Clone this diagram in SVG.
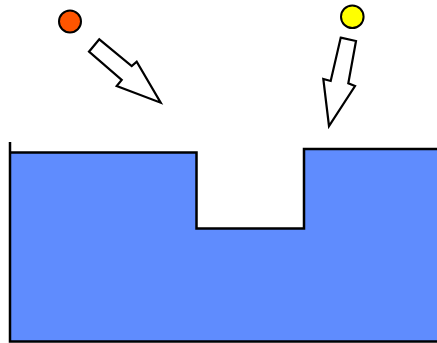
<svg xmlns="http://www.w3.org/2000/svg" width="437" height="343" viewBox="0 0 437 343">
<style>
.ln{fill:none;stroke:#000;stroke-width:2.5}
.ar{fill:#fff;stroke:#000;stroke-width:2.2;stroke-linejoin:miter}
.ball{stroke:#000;stroke-width:2}
</style>
<rect width="437" height="343" fill="#fff"/>
<g id="ground">
<path d="M10,152.5 H196.5 V228.5 H304 V149 H437 V341.5 H10 Z" fill="#5f8cfe"/>
<path class="ln" d="M10,142 V341.5 H437"/>
<path class="ln" d="M10,152.5 H196.5 V228.5 H304 V149 H437"/>
</g>
<g id="red-ball"><circle class="ball" cx="70" cy="21.5" r="11" fill="#ff5500"/></g>
<g id="yellow-ball"><circle class="ball" cx="352.3" cy="16.8" r="11.3" fill="#ffff00"/></g>
<g id="connectors">
<polygon class="ar" points="99.3,39.3 89,51.7 121.7,80 116.7,86 160.7,102.7 136.7,61.7 131.7,66"/>
<polygon class="ar" points="340.7,37.7 356,41 348.3,83.3 355,86 329,126 323.3,79 330.7,81"/>
</g>
</svg>
